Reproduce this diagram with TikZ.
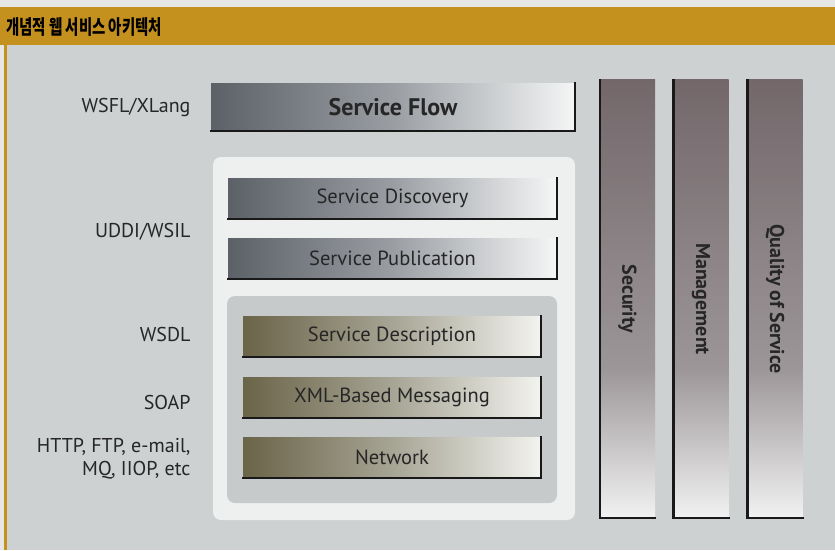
\documentclass[tikz,border=0pt]{standalone}
\usepackage{fontspec}
\setmainfont{PT Sans}
\newfontfamily\krfont{Noto Sans CJK KR}
\usetikzlibrary{calc}
\definecolor{gold}{HTML}{C4901E}
\definecolor{bgray}{HTML}{CDD1D2}
\definecolor{frame}{HTML}{E6E7E5}
\definecolor{panelw}{HTML}{EEF0F0}
\definecolor{panelg}{HTML}{C6CACB}
\definecolor{gdark}{HTML}{5C6168}
\definecolor{gmid}{HTML}{9A9EA3}
\definecolor{glight}{HTML}{F5F6F6}
\definecolor{odark}{HTML}{6A6448}
\definecolor{omid}{HTML}{A6A494}
\definecolor{olight}{HTML}{F3F3EF}
\definecolor{vdark}{HTML}{73676A}
\definecolor{vmid}{HTML}{9C9698}
\definecolor{vlight}{HTML}{F2F2F2}
\tikzset{
  lbl/.style={anchor=east, font=\fontsize{20}{24}\selectfont, text=black!85, align=right},
  greybox/.style={inner sep=0pt, left color=gdark, right color=glight, middle color=gmid, font=\fontsize{20.5}{24}\selectfont, text=black!85},
  olivebox/.style={inner sep=0pt, left color=odark, right color=olight, middle color=omid, font=\fontsize{20.5}{24}\selectfont, text=black!85},
  vbar/.style={inner sep=0pt, minimum width=55pt, minimum height=438pt},
  vtext/.style={rotate=-90, font=\bfseries\fontsize{20}{24}\selectfont, text=black!85},
  shadowline/.style={line width=2.5pt, black!90, line cap=rect},
}
\newcommand{\vshade}[1]{%
  \shade[top color=vdark, bottom color=vmid] (#1.north west) rectangle ($(#1.east)+(0,70)$);
  \shade[top color=vmid, bottom color=vlight] ($(#1.west)+(0,70)$) rectangle (#1.south east);}
\begin{document}
\begin{tikzpicture}[x=1pt,y=-1pt]
\useasboundingbox (0,0) rectangle (835,550);
% frame and background
\fill[frame] (0,0) rectangle (835,550);
\fill[bgray] (5,45) rectangle (835,550);
\fill[gold] (4,45) rectangle (7,550);
\node[fill=gold, minimum width=835pt, minimum height=38pt, inner sep=0pt, anchor=north west] (title) at (0,7) {};
\node[anchor=west, inner sep=0pt, font=\krfont\bfseries\fontsize{20}{22}\selectfont, text=black] (titletext) at (6,27) {\scalebox{0.72}[1]{개념적 웹 서비스 아키텍처}};
% Service Flow
\node[greybox, minimum width=364pt, minimum height=48pt, font=\bfseries\fontsize{24}{28}\selectfont] (sf) at (393,107) {Service Flow};
\draw[shadowline] (sf.south west) -- (sf.south east) -- (sf.north east);
% white panel
\node[fill=panelw, rounded corners=8pt, minimum width=362pt, minimum height=363pt, inner sep=0pt] (wpanel) at (394,338.5) {};
\node[greybox, minimum width=329pt, minimum height=41pt] (sd) at (392.5,198.5) {Service Discovery};
\draw[shadowline] (sd.south west) -- (sd.south east) -- (sd.north east);
\node[greybox, minimum width=329pt, minimum height=41pt] (sp) at (392.5,258.5) {Service Publication};
\draw[shadowline] (sp.south west) -- (sp.south east) -- (sp.north east);
% inner grey panel
\node[fill=panelg, rounded corners=8pt, minimum width=330pt, minimum height=207pt, inner sep=0pt] (gpanel) at (392,399.5) {};
\node[olivebox, minimum width=298pt, minimum height=41pt] (desc) at (392,336.5) {Service Description};
\draw[shadowline] (desc.south west) -- (desc.south east) -- (desc.north east);
\node[olivebox, minimum width=298pt, minimum height=41pt] (xml) at (392,397.5) {XML-Based Messaging};
\draw[shadowline] (xml.south west) -- (xml.south east) -- (xml.north east);
\node[olivebox, minimum width=298pt, minimum height=41pt] (net) at (392,457.5) {Network};
\draw[shadowline] (net.south west) -- (net.south east) -- (net.north east);
% vertical bars
\node[vbar] (sec) at (627.5,299) {};
\vshade{sec}
\draw[shadowline] (sec.north west) -- (sec.south west) -- (sec.south east);
\node[vtext] (sectext) at (627.5,299) {Security};
\node[vbar] (man) at (701,299) {};
\vshade{man}
\draw[shadowline] (man.north west) -- (man.south west) -- (man.south east);
\node[vtext] (mantext) at (701,299) {Management};
\node[vbar] (qos) at (775,299) {};
\vshade{qos}
\draw[shadowline] (qos.north west) -- (qos.south west) -- (qos.south east);
\node[vtext] (qostext) at (775,299) {Quality of Service};
% left labels
\node[lbl] (l1) at (194,107) {WSFL/XLang};
\node[lbl] (l2) at (194,232) {UDDI/WSIL};
\node[lbl] (l3) at (194,334) {WSDL};
\node[lbl] (l4) at (194,402) {SOAP};
\node[lbl, font=\fontsize{20}{23}\selectfont] (l5) at (194,459) {HTTP, FTP, e-mail,\\MQ, IIOP, etc};
\end{tikzpicture}
\end{document}
